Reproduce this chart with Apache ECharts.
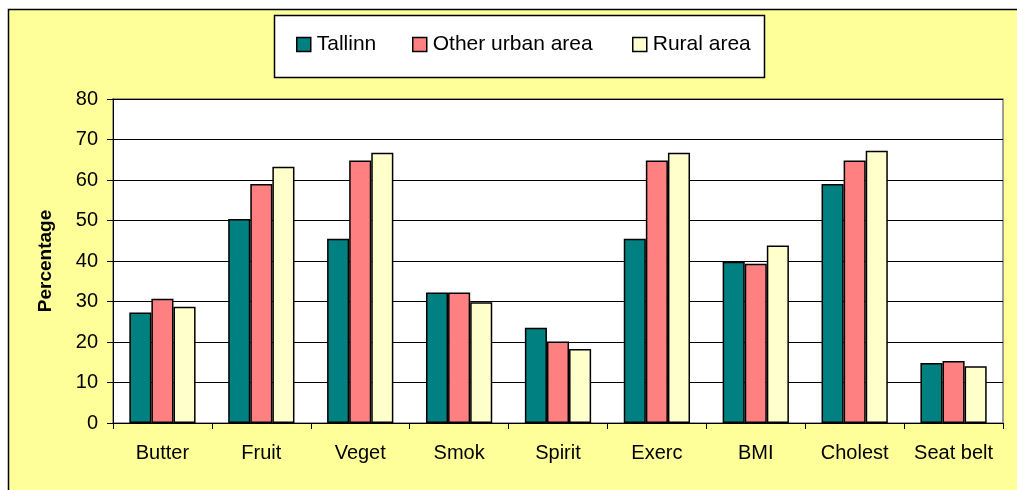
<!DOCTYPE html>
<html><head><meta charset="utf-8">
<script src="https://cdn.jsdelivr.net/npm/echarts@6/dist/echarts.min.js"></script>
<style>html,body{margin:0;padding:0;background:#fff}#c{width:1017px;height:490px}</style>
</head><body><div id="c"></div>
<script>
const categories = ['Butter','Fruit','Veget','Smok','Spirit','Exerc','BMI','Cholest','Seat belt'];
const tallinn = [27.3, 50.4, 45.5, 32.2, 23.5, 45.5, 39.8, 59.0, 14.8];
const otherUrban = [30.7, 59.0, 64.8, 32.2, 20.1, 64.8, 39.3, 64.8, 15.3];
const rural = [28.7, 63.3, 66.7, 29.8, 18.3, 66.7, 43.8, 67.2, 14.0];
const seriesNames = ['Tallinn','Other urban area','Rural area'];
const colors = ['#008080','#FF8080','#FFFFCC'];
const font = '"Liberation Sans", Arial, sans-serif';

const chart = echarts.init(document.getElementById('c'));
const legendLeft = [296, 412, 632];
const mk = (name, data, color) => ({
  name, type: 'bar', data, barGap: '0%', barCategoryGap: '33%',
  itemStyle: { color, borderColor: '#000', borderWidth: 1.5 },
  emphasis: { disabled: true }
});
chart.setOption({
  animation: false,
  backgroundColor: '#fff',
  color: colors,
  graphic: [
    { type: 'rect', z: -100, shape: { x: 8.5, y: 9.5, width: 1020, height: 500 },
      style: { fill: '#FFFF99', stroke: '#000', lineWidth: 1.5 } },
    { type: 'rect', z: -50, shape: { x: 274.5, y: 15.5, width: 490, height: 62 },
      style: { fill: '#fff', stroke: '#000', lineWidth: 1.5 } },
    { type: 'rect', z: -40, shape: { x: 113, y: 99, width: 890, height: 324 },
      style: { fill: '#fff', stroke: '#808080', lineWidth: 1.5 } }
  ],
  legend: seriesNames.map((n, i) => ({
    data: [n], left: legendLeft[i], top: 34, padding: 0,
    itemWidth: 14, itemHeight: 14, itemGap: 0,
    icon: 'rect',
    itemStyle: { borderColor: '#000', borderWidth: 1.5 },
    textStyle: { fontFamily: font, fontSize: 21, color: '#000', padding: [0,0,0,1] },
    selectedMode: false
  })),
  grid: { left: 113, top: 99, right: 14, bottom: 67, containLabel: false },
  xAxis: {
    type: 'category', data: categories,
    axisLine: { lineStyle: { color: '#000', width: 1 } },
    axisTick: { show: true, alignWithLabel: false, interval: 0, length: 6, lineStyle: { color: '#000' } },
    axisLabel: { interval: 0, fontFamily: font, fontSize: 20, color: '#000', margin: 20 }
  },
  yAxis: {
    type: 'value', min: 0, max: 80, interval: 10,
    name: 'Percentage', nameLocation: 'middle', nameGap: 58, nameRotate: 90,
    nameTextStyle: { fontFamily: font, fontSize: 19, fontWeight: 'bold', color: '#000' },
    axisLine: { show: true, lineStyle: { color: '#000', width: 1 } },
    axisTick: { show: true, length: 6, lineStyle: { color: '#000' } },
    axisLabel: { fontFamily: font, fontSize: 20, color: '#000', margin: 15 },
    splitLine: { lineStyle: { color: '#000', width: 1 } }
  },
  series: [mk(seriesNames[0], tallinn, colors[0]), mk(seriesNames[1], otherUrban, colors[1]), mk(seriesNames[2], rural, colors[2])]
});
</script></body></html>
